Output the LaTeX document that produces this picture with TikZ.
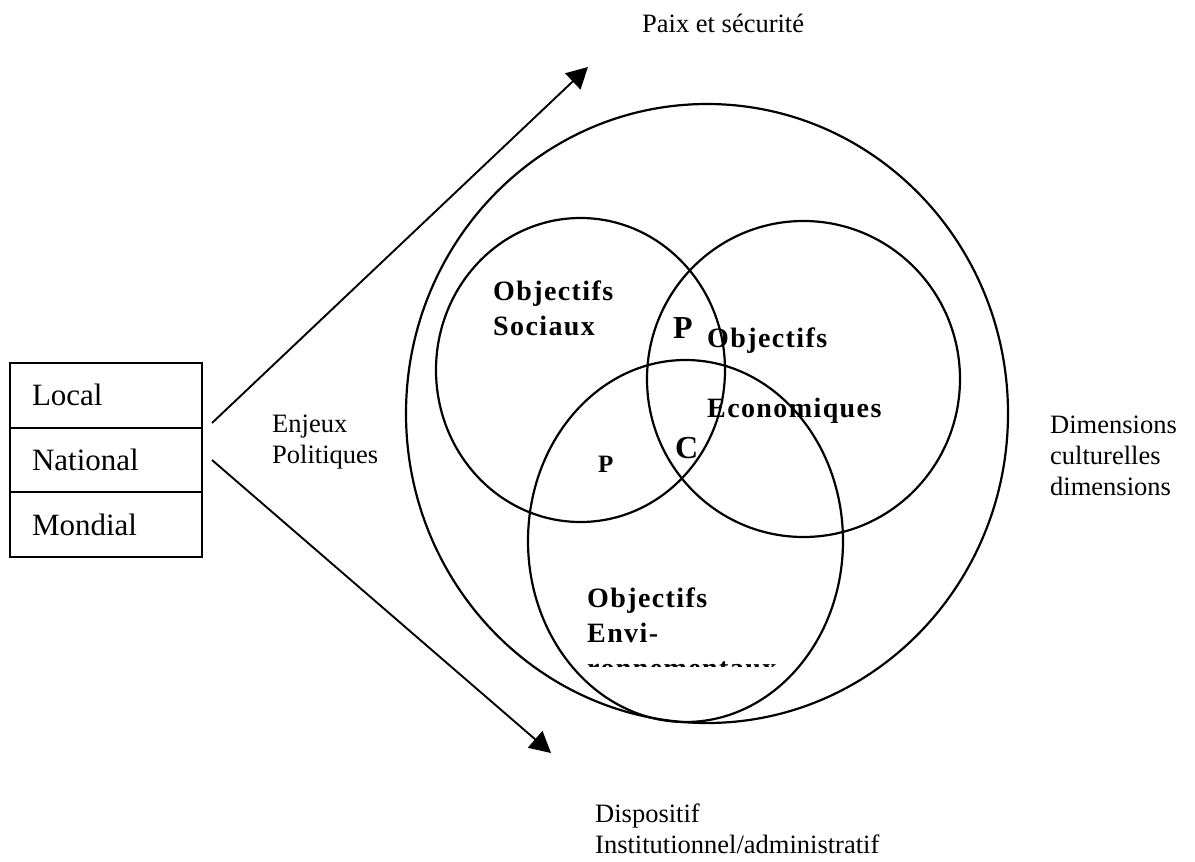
\documentclass[tikz,border=0pt]{standalone}
\usepackage{fontspec}
\setmainfont{Liberation Serif}
\newfontfamily\objfont[LetterSpace=5]{Liberation Serif}
\usetikzlibrary{positioning,arrows.meta}

\begin{document}
\begin{tikzpicture}[x=1pt,y=-1pt,
    lbl/.style={font=\fontsize{26.5}{31}\selectfont,inner sep=0pt,anchor=base west,align=left},
    obj/.style={font=\objfont\bfseries\fontsize{28}{35}\selectfont,inner sep=0pt,anchor=base west},
    row/.style={draw,line width=2pt,outer sep=0pt,minimum width=192pt,minimum height=64.7pt,
      text width=148pt,inner xsep=22pt,align=left,font=\fontsize{31}{36}\selectfont},
    ring/.style={line width=2.2pt},
    arr/.style={line width=1.9pt,-{Triangle[length=21pt,width=22pt]}}]
  \useasboundingbox (0,0) rectangle (1195,862);

  % levels
  \node[row,anchor=north west] (local) at (10,363) {Local};
  \node[row,below=0pt of local] (national) {National};
  \node[row,below=0pt of national] (mondial) {Mondial};

  % circles
  \draw[ring] (707,413.5) ellipse [x radius=301, y radius=309.5];
  \draw[ring] (580.5,370) ellipse [x radius=144.5, y radius=152];
  \draw[ring] (803.5,379) ellipse [x radius=156.5, y radius=158];
  \draw[ring] (685.5,541) ellipse [x radius=157.5, y radius=181];

  % arrows
  \coordinate (upstart) at (212,423);
  \coordinate (downstart) at (212,460);
  \coordinate (paixtip) at (588,67);
  \coordinate (dispotip) at (551,753);
  \draw[arr] (upstart) -- (paixtip);
  \draw[arr] (downstart) -- (dispotip);

  % labels (base = last line)
  \node[lbl] (paix) at (642,32) {Paix et sécurité};
  \node[lbl] (enjeux) at (272,463) {Enjeux\\Politiques};
  \node[lbl] (dims) at (1050,495) {Dimensions\\culturelles\\dimensions};
  \node[lbl] (dispo) at (595,853) {Dispositif\\Institutionnel/administratif};

  % objectives
  \node[obj] (socA) at (493,300) {Objectifs};
  \node[obj] (socB) at (493,335) {Sociaux};
  \node[obj] (ecoA) at (707,347) {Objectifs};
  \node[obj] (ecoB) at (707,417) {Economiques};
  \node[obj] (envA) at (587,607) {Objectifs};
  \node[obj] (envB) at (587,642) {Envi-};
  \begin{scope}
    \clip (560,600) rectangle (900,666);
    \node[obj] (envC) at (587,677) {ronnementaux};
  \end{scope}
  \node[obj,font=\objfont\bfseries\fontsize{32}{36}\selectfont] (pup) at (673,338) {P};
  \node[obj,font=\objfont\bfseries\fontsize{32}{36}\selectfont] (c) at (675,458) {C};
  \node[obj,font=\objfont\bfseries\fontsize{25}{30}\selectfont] (plow) at (598,472) {P};
\end{tikzpicture}
\end{document}
